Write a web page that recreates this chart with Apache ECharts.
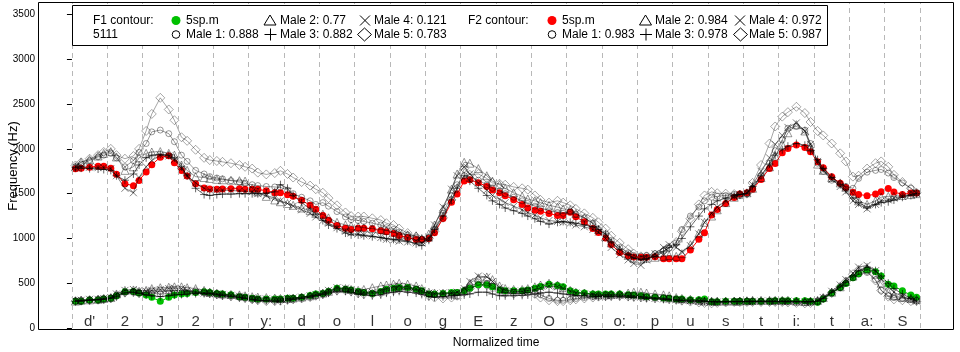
<!DOCTYPE html>
<html>
<head>
<meta charset="utf-8">
<script src="https://cdn.jsdelivr.net/npm/echarts@6/dist/echarts.min.js"></script>
<style>
  html, body { margin: 0; padding: 0; background: #fff; }
  #chart { width: 960px; height: 352px; }
</style>
</head>
<body>
<div id="chart"></div>
<script>
// segment labels along the normalized time axis
var segLabels = ["d'", '2', 'J', '2', 'r', 'y:', 'd', 'o', 'l', 'o', 'g', 'E', 'z', 'O', 's', 'o:', 'p', 'u', 's', 't', 'i:', 't', 'a:', 'S'];
// where the 5 samples sit inside each segment
var pointPos = [0.1, 0.26, 0.5, 0.74, 0.9];

// F2 contour, 5sp.m (red)
var f2Mean = [
  1778,1785,1796,1807,1807, 1785,1718,1611,1589,1648, 1741,1822,1907,1922,1844, 1759,1696,1611,1563,1552,
  1548,1552,1556,1556,1548, 1548,1548,1533,1511,1511, 1489,1470,1426,1370,1326, 1256,1204,1144,1115,1100,
  1115,1115,1107,1085,1074, 1056,1033,1011,989,989, 1000,1063,1222,1404,1496, 1641,1656,1622,1581,1541,
  1511,1478,1433,1378,1341, 1315,1304,1278,1256,1256, 1293,1241,1185,1111,1067, 1004,933,844,807,793,
  789,789,796,774,774, 774,774,871,990,1064, 1261,1324,1391,1458,1496, 1510,1548,1659,1782,1838,
  1957,2005,2042,2016,1968, 1856,1789,1689,1615,1570, 1515,1492,1477,1496,1522, 1559,1518,1492,1507,1507
];
// F1 contour, 5sp.m (green)
var f1Mean = [
  298,298,312,312,323, 331,360,404,408,390, 368,342,298,342,368, 379,386,397,404,397,
  386,379,371,349,342, 331,323,323,323,323, 331,331,342,364,379, 386,408,445,434,423,
  408,397,386,408,434, 445,452,452,434,415, 379,379,386,397,397, 415,445,482,482,460,
  423,415,415,415,423, 445,463,489,474,460, 415,397,390,379,379, 379,379,379,372,368,
  360,349,342,335,331, 323,323,316,316,323, 294,294,298,298,298, 298,298,298,298,305,
  305,305,305,305,298, 287,323,390,452,496, 560,607,647,629,581, 489,470,415,368,342
];

// F2 contours of the five male speakers
var f2Male1 = [
  1800,1830,1870,1910,1930, 1950,1900,1800,1870,1960, 2060,2190,2210,2170,2080, 1930,1860,1760,1720,1690,
  1675,1665,1645,1630,1615, 1600,1590,1580,1575,1570, 1540,1500,1460,1420,1380, 1400,1360,1300,1240,1210,
  1200,1190,1170,1150,1120, 1100,1070,1040,1010,990, 1010,1100,1280,1480,1600, 1700,1690,1650,1600,1560,
  1530,1500,1460,1420,1390, 1360,1340,1310,1290,1280, 1300,1270,1230,1170,1100, 1050,980,900,840,810,
  800,810,830,860,890, 950,1100,1250,1350,1420, 1460,1470,1480,1490,1490, 1500,1560,1700,1840,1980,
  2100,2230,2250,2210,2060, 1840,1750,1650,1610,1580, 1560,1670,1740,1760,1770, 1730,1680,1620,1560,1510
];
var f2Male2 = [
  1800,1850,1880,1920,1950, 1970,1910,1760,1800,1900, 1950,1965,1970,1950,1930, 1820,1760,1690,1680,1670,
  1660,1655,1650,1645,1640, 1560,1520,1470,1430,1410, 1390,1370,1340,1310,1280, 1270,1230,1180,1150,1140,
  1130,1120,1110,1100,1090, 1070,1050,1040,1030,1000, 1050,1150,1330,1550,1720, 1850,1840,1780,1700,1640,
  1600,1560,1510,1470,1440, 1420,1400,1370,1350,1330, 1320,1280,1230,1170,1100, 1020,950,870,810,780,
  770,780,790,800,810, 800,830,930,1060,1180, 1250,1320,1400,1460,1490, 1510,1560,1680,1800,1920,
  2050,2180,2270,2200,2020, 1830,1760,1680,1620,1570, 1500,1420,1380,1420,1460, 1470,1470,1480,1490,1500
];
var f2Male3 = [
  1790,1785,1780,1775,1770, 1760,1700,1650,1720,1820, 1900,1930,1940,1930,1900, 1800,1700,1560,1490,1480,
  1490,1495,1495,1500,1500, 1500,1500,1505,1520,1600, 1560,1480,1400,1330,1270, 1200,1150,1110,1060,1040,
  1040,1030,1020,1010,1000, 990,985,970,940,920, 980,1100,1250,1430,1560, 1700,1640,1560,1480,1420,
  1380,1340,1310,1280,1250, 1220,1190,1160,1180,1190, 1180,1170,1150,1130,1100, 1050,960,880,820,780,
  760,770,800,850,900, 930,1000,1130,1250,1330, 1380,1420,1450,1480,1490, 1500,1580,1700,1830,1930,
  1990,2030,2060,2040,1980, 1880,1780,1680,1600,1540, 1450,1400,1350,1380,1400, 1410,1430,1460,1480,1500
];
var f2Male4 = [
  1800,1800,1795,1790,1790, 1780,1700,1560,1510,1680, 1800,1870,1930,1920,1880, 1780,1700,1620,1560,1540,
  1540,1540,1535,1530,1525, 1520,1500,1480,1450,1420, 1390,1360,1320,1280,1240, 1200,1170,1120,1080,1060,
  1050,1040,1030,1010,990, 980,970,960,950,950, 1000,1150,1350,1550,1700, 1800,1720,1620,1540,1480,
  1440,1400,1360,1320,1290, 1260,1230,1200,1190,1180, 1170,1150,1130,1100,1070, 1000,900,820,760,720,
  700,760,830,900,930, 900,850,920,1050,1180, 1280,1350,1420,1470,1490, 1510,1600,1750,1900,2050,
  2150,2240,2290,2200,2050, 1860,1760,1660,1580,1520, 1420,1380,1330,1380,1420, 1430,1450,1470,1490,1500
];
var f2Male5 = [
  1815,1850,1890,1930,1965, 2000,1930,1890,1920,2000, 2200,2390,2570,2440,2320, 2130,2090,1990,1900,1875,
  1865,1855,1840,1820,1800, 1780,1735,1715,1730,1755, 1720,1680,1630,1590,1550, 1510,1450,1370,1290,1250,
  1245,1245,1225,1205,1170, 1150,1110,1060,1020,985, 1000,1080,1230,1430,1560, 1780,1710,1720,1670,1620,
  1610,1600,1575,1560,1545, 1480,1430,1400,1420,1400, 1370,1330,1280,1230,1180, 1110,1030,950,880,830,
  800,800,820,860,900, 960,1080,1220,1380,1480, 1520,1505,1500,1495,1490, 1500,1620,1820,2060,2250,
  2360,2410,2470,2400,2300, 2200,2150,2060,1950,1860, 1690,1700,1780,1840,1860, 1800,1710,1630,1560,1510
];

// F1 contours of the five male speakers
var f1Male1 = [
  300,305,312,318,325, 335,365,400,405,395, 390,385,380,385,390, 395,400,400,395,390,
  380,370,360,345,335, 320,315,310,310,315, 325,330,340,355,365, 380,400,430,430,420,
  400,395,390,400,420, 430,440,440,430,410, 380,370,375,385,395, 420,460,510,500,470,
  420,400,400,410,420, 400,370,330,310,310, 320,330,340,350,360, 370,370,370,365,360,
  350,345,340,335,330, 320,315,310,305,300, 290,285,290,295,300, 300,300,300,300,300,
  300,295,290,285,290, 300,330,390,450,500, 560,600,620,540,420, 360,340,330,320,310
];
var f1Male2 = [
  300,310,315,320,330, 340,380,420,425,410, 420,440,450,455,460, 460,450,440,420,400,
  390,380,375,370,360, 350,345,340,335,330, 330,335,345,360,375, 390,410,440,440,430,
  420,430,450,470,480, 490,500,490,470,440, 400,390,390,380,370, 420,500,560,570,540,
  470,440,430,430,440, 460,480,500,480,450, 420,400,390,380,370, 370,375,380,390,400,
  400,390,380,370,360, 340,330,320,310,300, 300,300,300,300,300, 305,310,310,310,310,
  310,310,300,295,300, 310,340,400,460,520, 580,640,660,600,500, 400,360,340,330,320
];
var f1Male3 = [
  300,300,310,315,320, 330,350,390,400,385, 370,360,350,360,370, 375,380,385,385,380,
  370,360,350,340,330, 320,310,305,300,300, 310,320,330,345,360, 370,390,410,410,400,
  380,370,360,370,390, 400,410,400,390,375, 350,345,350,360,365, 370,380,400,400,380,
  360,360,360,365,370, 380,390,400,390,380, 370,365,360,355,350, 350,350,350,345,340,
  335,330,325,320,315, 310,305,300,300,300, 295,295,295,295,295, 295,295,295,295,295,
  295,295,295,295,295, 300,330,400,460,510, 580,640,680,640,580, 500,440,380,330,300
];
var f1Male4 = [
  305,310,320,320,330, 340,380,420,430,420, 410,420,430,440,445, 440,420,400,390,385,
  380,375,365,355,345, 335,330,325,320,320, 330,335,345,360,375, 390,420,450,445,430,
  410,400,400,420,440, 460,470,460,440,420, 390,385,390,395,400, 440,520,580,570,520,
  450,420,410,410,420, 430,450,470,460,440, 410,390,380,370,365, 365,365,365,360,355,
  350,340,330,325,320, 315,310,305,300,300, 290,290,295,295,295, 295,295,300,300,300,
  300,300,295,290,295, 305,340,410,480,540, 610,680,700,640,550, 460,400,350,320,300
];
var f1Male5 = [
  300,305,310,315,320, 330,360,395,400,390, 400,410,415,420,420, 420,415,410,400,390,
  375,365,355,345,335, 320,310,300,300,305, 315,320,330,345,360, 380,400,420,420,410,
  390,380,380,390,410, 420,430,430,420,400, 360,340,330,340,360, 400,440,480,480,450,
  410,390,385,390,400, 380,340,310,300,300, 310,320,330,340,350, 355,360,360,355,350,
  345,340,335,330,325, 315,305,295,285,280, 275,280,285,290,290, 290,290,290,290,290,
  290,285,280,275,280, 295,330,390,460,520, 600,650,640,530,420, 350,320,310,300,300
];

var FONT = 'Liberation Sans, Arial, sans-serif';
var PLUS = 'path://M0,5L10,5M5,0L5,10';
var CROSS = 'path://M0,0L10,10M10,0L0,10';

function toPoints(vals) {
  return vals.map(function (v, i) {
    return [Math.floor(i / 5) + pointPos[i % 5], v];
  });
}

function greySeries(vals, symbol, size, color) {
  return {
    type: 'line',
    data: toPoints(vals),
    symbol: symbol,
    symbolSize: size,
    showSymbol: true,
    silent: true,
    z: 4,
    lineStyle: { color: color, width: 1 },
    itemStyle: { color: 'rgba(0,0,0,0)', borderColor: color, borderWidth: 1 },
    emphasis: { disabled: true }
  };
}

function meanSeries(vals, color) {
  return {
    type: 'line',
    data: toPoints(vals),
    symbol: 'circle',
    symbolSize: 7,
    showSymbol: true,
    silent: true,
    z: 3,
    lineStyle: { color: color, width: 1 },
    itemStyle: { color: color, borderWidth: 0 },
    emphasis: { disabled: true }
  };
}

var boundaries = segLabels.map(function (s, i) { return i; }).concat([segLabels.length]);

var series = [
  {
    type: 'scatter',
    data: segLabels.map(function (t, i) { return { value: [i + 0.5, 70], name: t }; }),
    symbolSize: 1,
    silent: true,
    z: 2,
    itemStyle: { color: 'rgba(0,0,0,0)' },
    label: { show: true, position: 'inside', formatter: '{b}', fontSize: 15, color: '#000', fontFamily: FONT },
    markLine: {
      silent: true,
      symbol: ['none', 'none'],
      label: { show: false },
      lineStyle: { color: '#b8b8b8', type: [5, 4], width: 1 },
      data: boundaries.map(function (b) { return { xAxis: b }; })
    }
  },
  meanSeries(f2Mean, '#ff0000'),
  meanSeries(f1Mean, '#00c000'),
  greySeries(f2Male1, 'circle', 6, 'rgba(0,0,0,0.4)'),
  greySeries(f2Male2, 'triangle', 8, 'rgba(0,0,0,0.4)'),
  greySeries(f2Male3, PLUS, 8, 'rgba(0,0,0,0.6)'),
  greySeries(f2Male4, CROSS, 7, 'rgba(0,0,0,0.5)'),
  greySeries(f2Male5, 'diamond', 9, 'rgba(0,0,0,0.35)'),
  greySeries(f1Male1, 'circle', 6, 'rgba(0,0,0,0.4)'),
  greySeries(f1Male2, 'triangle', 8, 'rgba(0,0,0,0.4)'),
  greySeries(f1Male3, PLUS, 8, 'rgba(0,0,0,0.6)'),
  greySeries(f1Male4, CROSS, 7, 'rgba(0,0,0,0.5)'),
  greySeries(f1Male5, 'diamond', 9, 'rgba(0,0,0,0.35)')
];

// legend drawn by hand, R style
function txt(x, y, s) {
  return { type: 'text', x: x, y: y, z: 20, style: { text: s, fontSize: 12, fontFamily: FONT, fill: '#000', verticalAlign: 'middle' } };
}
function dot(cx, cy, fill) {
  return { type: 'circle', z: 20, shape: { cx: cx, cy: cy, r: 4.5 }, style: { fill: fill } };
}
function ring(cx, cy) {
  return { type: 'circle', z: 20, shape: { cx: cx, cy: cy, r: 3.8 }, style: { fill: 'none', stroke: '#000', lineWidth: 1 } };
}
function tri(cx, cy) {
  return { type: 'polygon', z: 20, shape: { points: [[cx, cy - 5.5], [cx + 6, cy + 4.5], [cx - 6, cy + 4.5]] }, style: { fill: 'none', stroke: '#000', lineWidth: 1 } };
}
function plus(cx, cy) {
  return { type: 'group', z: 20, children: [
    { type: 'line', z: 20, shape: { x1: cx - 6, y1: cy, x2: cx + 6, y2: cy }, style: { stroke: '#000', lineWidth: 1 } },
    { type: 'line', z: 20, shape: { x1: cx, y1: cy - 6, x2: cx, y2: cy + 6 }, style: { stroke: '#000', lineWidth: 1 } }
  ] };
}
function cross(cx, cy) {
  return { type: 'group', z: 20, children: [
    { type: 'line', z: 20, shape: { x1: cx - 5, y1: cy - 5, x2: cx + 5, y2: cy + 5 }, style: { stroke: '#000', lineWidth: 1 } },
    { type: 'line', z: 20, shape: { x1: cx + 5, y1: cy - 5, x2: cx - 5, y2: cy + 5 }, style: { stroke: '#000', lineWidth: 1 } }
  ] };
}
function diam(cx, cy) {
  return { type: 'polygon', z: 20, shape: { points: [[cx, cy - 6.5], [cx + 7, cy], [cx, cy + 6.5], [cx - 7, cy]] }, style: { fill: 'none', stroke: '#000', lineWidth: 1 } };
}

var r1 = 20.5, r2 = 34.5;
var legend = [
  { type: 'rect', z: 19, shape: { x: 72.5, y: 5.5, width: 755, height: 40 }, style: { fill: '#fff', stroke: '#000', lineWidth: 1 } },
  txt(93, r1, 'F1 contour:'), txt(93, r2, '5111'),
  dot(176, r1, '#00c000'), txt(186, r1, '5sp.m'),
  ring(176, r2), txt(186, r2, 'Male 1: 0.888'),
  tri(270, r1), txt(280, r1, 'Male 2: 0.77'),
  plus(270.5, r2), txt(280, r2, 'Male 3: 0.882'),
  cross(365, r1), txt(374, r1, 'Male 4: 0.121'),
  diam(364.5, r2), txt(374, r2, 'Male 5: 0.783'),
  txt(468, r1, 'F2 contour:'),
  dot(552, r1, '#ff0000'), txt(562, r1, '5sp.m'),
  ring(552, r2), txt(562, r2, 'Male 1: 0.983'),
  tri(645.5, r1), txt(655, r1, 'Male 2: 0.984'),
  plus(646, r2), txt(655, r2, 'Male 3: 0.978'),
  cross(740, r1), txt(749, r1, 'Male 4: 0.972'),
  diam(740.5, r2), txt(749, r2, 'Male 5: 0.987'),
  // plot frame and axis titles
  { type: 'rect', z: 18, shape: { x: 38.5, y: 2.5, width: 915, height: 327 }, style: { fill: 'none', stroke: '#000', lineWidth: 1 } },
  { type: 'text', x: 13, y: 166, rotation: Math.PI / 2, z: 20,
    style: { text: 'Frequency (Hz)', fontSize: 13, fontFamily: FONT, fill: '#000', align: 'center', verticalAlign: 'middle' } },
  { type: 'text', x: 496, y: 343, z: 20,
    style: { text: 'Normalized time', fontSize: 12, fontFamily: FONT, fill: '#000', align: 'center', verticalAlign: 'middle' } }
];

var chart = echarts.init(document.getElementById('chart'));
chart.setOption({
  animation: false,
  backgroundColor: '#fff',
  grid: { left: 38, right: 6, top: 2, bottom: 24 },
  xAxis: {
    type: 'value',
    min: -0.96,
    max: 24.96,
    axisLine: { show: false },
    axisTick: { show: false },
    axisLabel: { show: false },
    splitLine: { show: false }
  },
  yAxis: {
    type: 'value',
    min: 0,
    max: 3640,
    interval: 500,
    axisLine: { show: false },
    axisTick: { show: true, length: 5, lineStyle: { color: '#000' } },
    axisLabel: {
      fontSize: 10, color: '#000', margin: 3, fontFamily: FONT, showMaxLabel: false,
      formatter: function (v) { return String(v); }
    },
    splitLine: { show: false }
  },
  series: series,
  graphic: legend
});
</script>
</body>
</html>
